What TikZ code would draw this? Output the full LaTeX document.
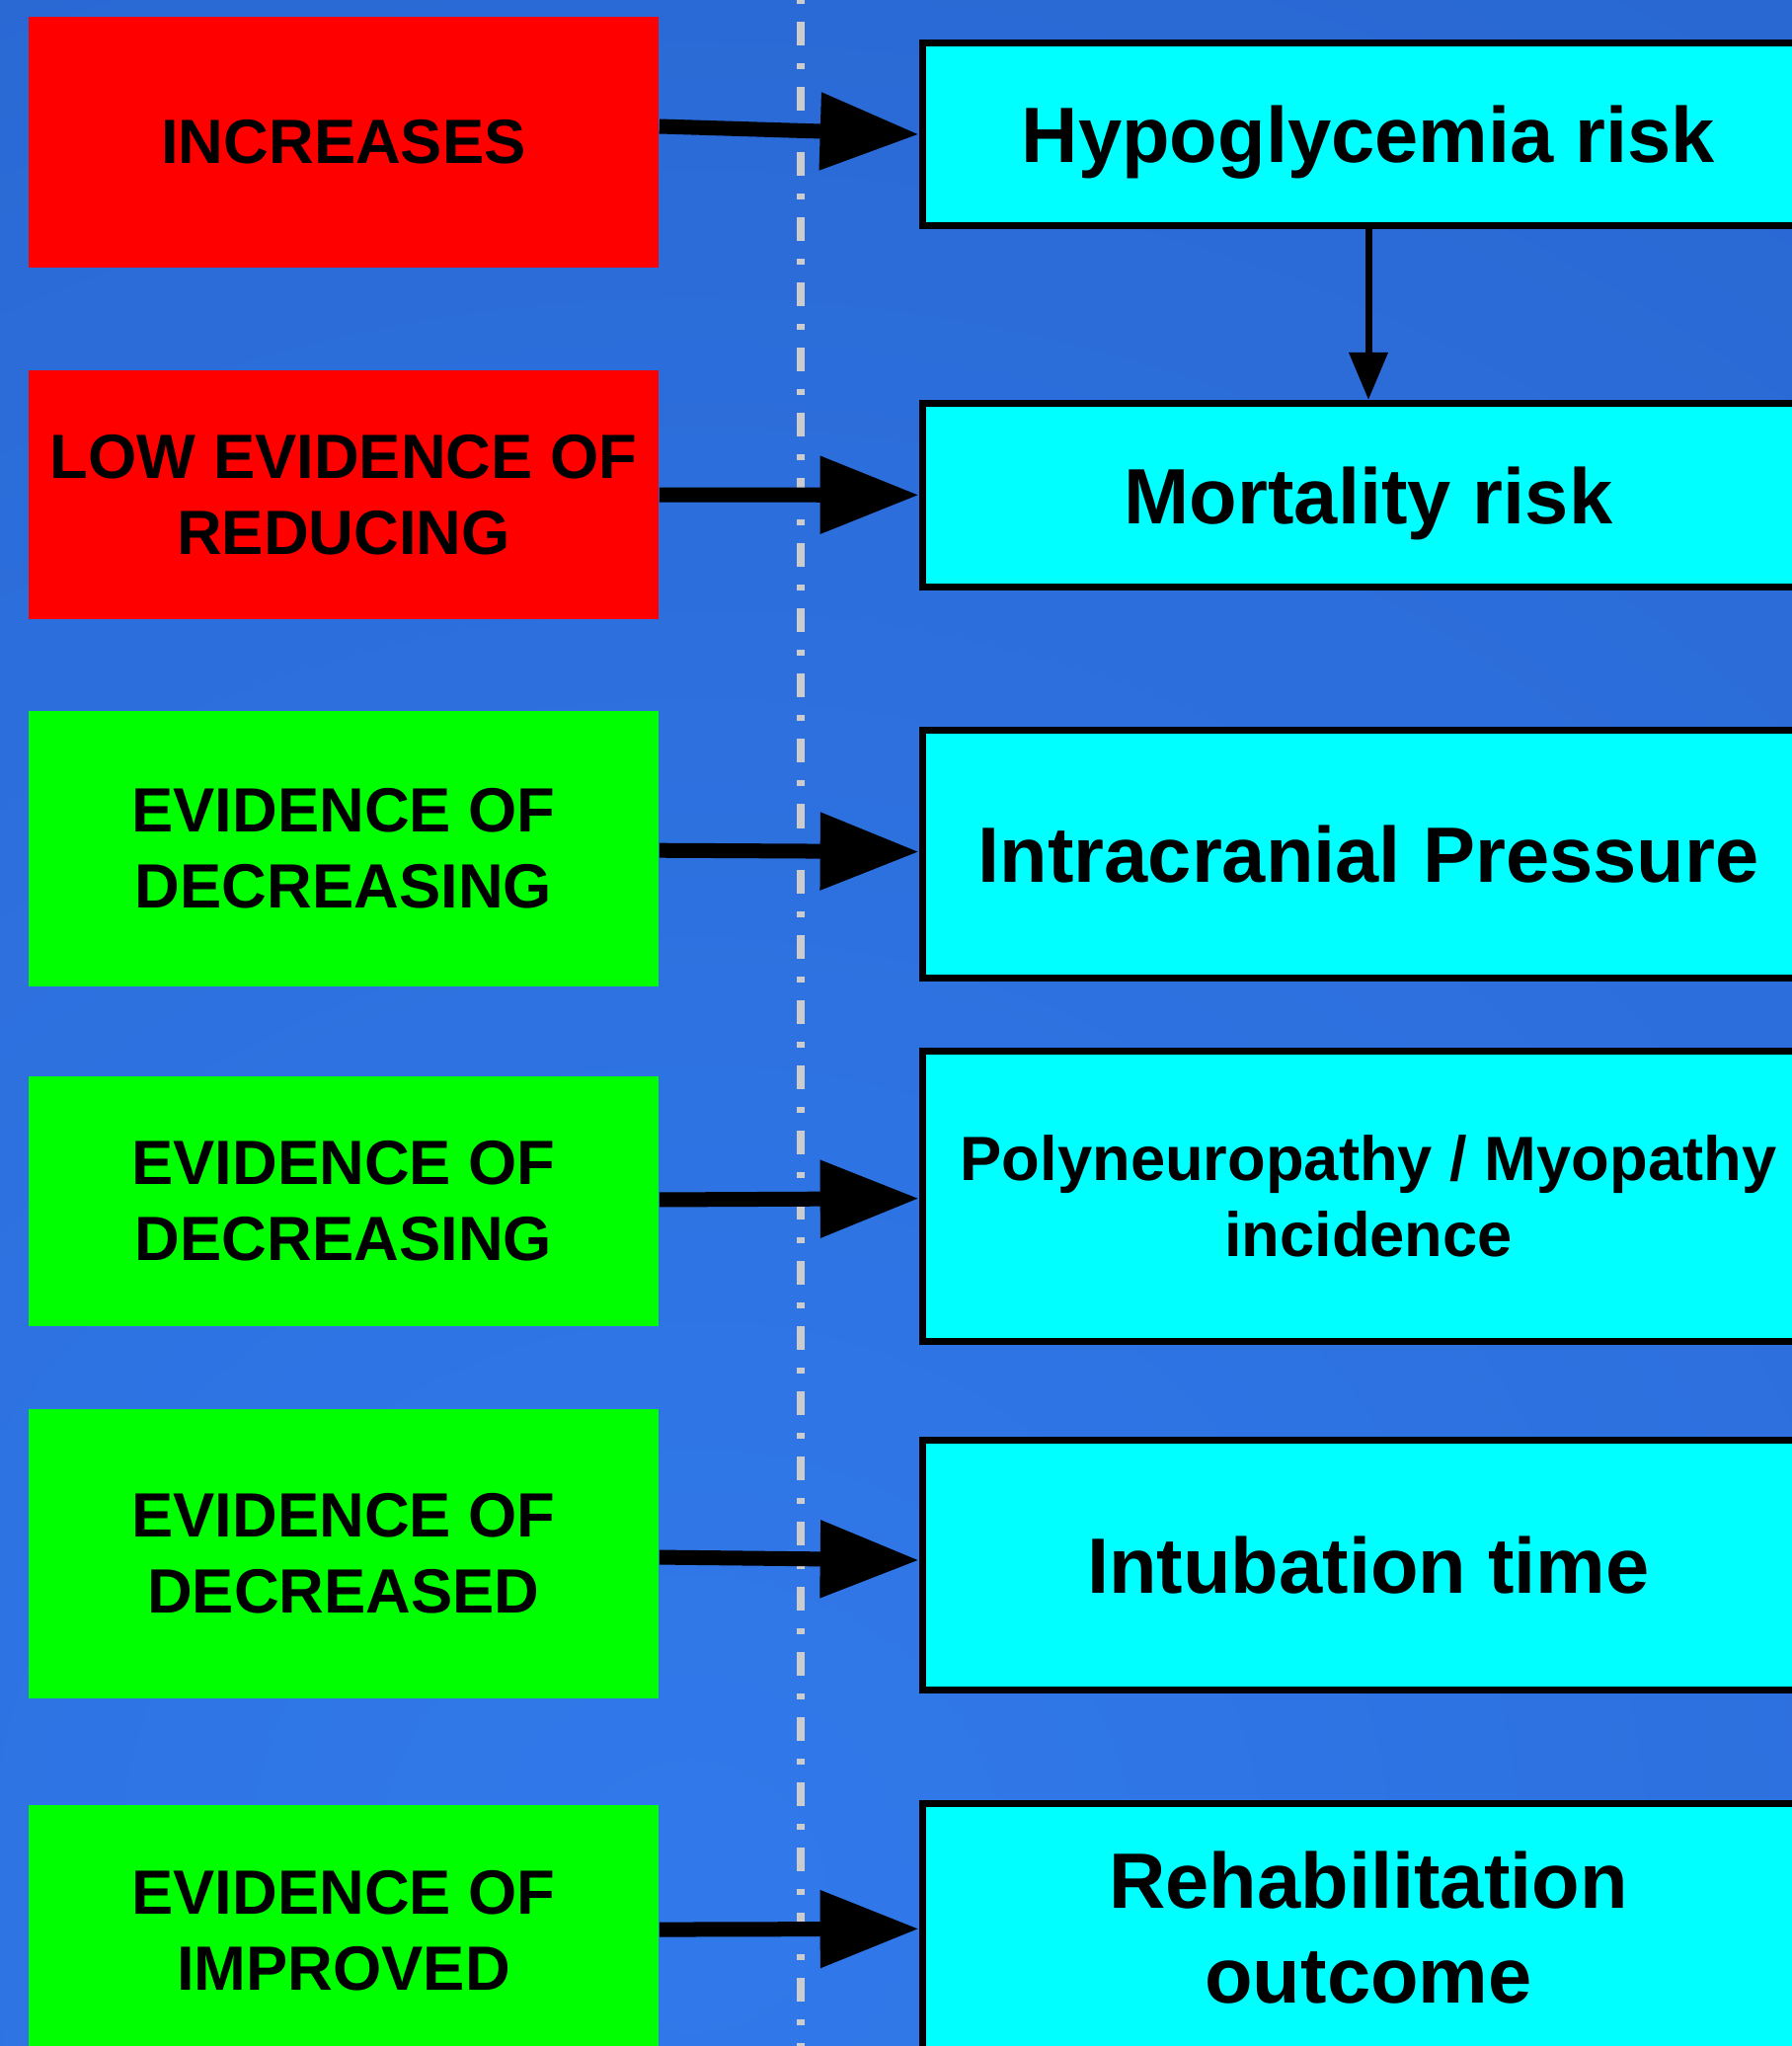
\documentclass[tikz,border=0pt]{standalone}
\usepackage{fontspec}
\setmainfont{Liberation Sans}
\usetikzlibrary{arrows.meta}
\definecolor{bgin}{HTML}{3179EB}
\definecolor{bgout}{HTML}{2157BA}
\definecolor{evred}{HTML}{FF0000}
\definecolor{evgreen}{HTML}{00FF00}
\definecolor{outcyan}{HTML}{00FFFF}
\definecolor{divgray}{HTML}{CCCCCC}

\begin{document}
\begin{tikzpicture}[x=0.01cm,y=-0.01cm,>={Triangle[length=1cm,width=0.75cm]},
    ev node/.style={minimum width=6.38cm,inner sep=0pt,align=center,font=\bfseries\fontsize{18}{21.8}\selectfont},
    out node/.style={draw=black,line width=0.07cm,fill=outcyan,minimum width=9.03cm,inner sep=0pt,align=center,font=\bfseries\fontsize{22.6}{27.3}\selectfont}]
                \useasboundingbox (0,0) rectangle (1815,2072);
                \clip (0,0) rectangle (1815,2072);
                \shade[inner color=bgin,outer color=bgout] (700,1920) circle (4400);
                \draw[line width=0.08cm,divgray,dash pattern=on 0.24cm off 0.18cm on 0.06cm off 0.18cm] (811,-44) -- (811,2100);

                % left column
                \node[ev node,fill=evred,minimum height=2.54cm] (l1) at (348,144) {INCREASES};
                \node[ev node,fill=evred,minimum height=2.52cm] (l2) at (348,501) {LOW EVIDENCE OF\\REDUCING};
                \node[ev node,fill=evgreen,minimum height=2.79cm] (l3) at (348,859.5) {EVIDENCE OF\\DECREASING};
                \node[ev node,fill=evgreen,minimum height=2.53cm] (l4) at (348,1216.5) {EVIDENCE OF\\DECREASING};
                \node[ev node,fill=evgreen,minimum height=2.93cm] (l5) at (348,1573.5) {EVIDENCE OF\\DECREASED};
                \node[ev node,fill=evgreen,minimum height=2.54cm] (l6) at (348,1955) {EVIDENCE OF\\IMPROVED};

                % right column
                \node[out node,minimum height=1.85cm,text depth=0pt] (r1) at (1386,136) {Hypoglycemia risk};
                \node[out node,minimum height=1.86cm,text depth=0pt] (r2) at (1386,501.5) {Mortality risk};
                \node[out node,minimum height=2.51cm,text depth=0pt] (r3) at (1386,865) {Intracranial Pressure};
                \node[out node,minimum height=2.94cm,font=\bfseries\fontsize{18}{21.9}\selectfont] (r4) at (1386,1211.5) {Polyneuropathy / Myopathy\\incidence};
                \node[out node,minimum height=2.53cm] (r5) at (1386,1585) {Intubation time};
                \node[out node,minimum height=2.51cm] (r6) at (1386,1952) {Rehabilitation\\outcome};

                \path[every edge/.style={draw,->,line width=0.15cm}]
                ([yshift=0.16cm]l1.east) edge (r1.west)
                (l2) edge (r2)
                (l3) edge (r3)
                (l4) edge (r4)
                (l5) edge (r5)
                (l6) edge (r6)
                ;
                \draw[-{Triangle[length=0.48cm,width=0.38cm]},line width=0.07cm] (r1) -- (r2);
            \end{tikzpicture}
\end{document}
